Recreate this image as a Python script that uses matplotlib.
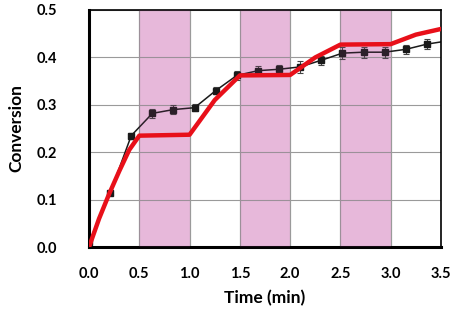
import matplotlib.pyplot as plt

# measured conversion (black squares with error bars)
t_exp = [0.0, 0.21, 0.42, 0.63, 0.84, 1.05, 1.26, 1.47, 1.68, 1.89, 2.10, 2.31, 2.52, 2.73, 2.94, 3.15, 3.36, 3.60]
conv_exp = [0.01, 0.114, 0.235, 0.282, 0.29, 0.294, 0.33, 0.362, 0.372, 0.375, 0.38, 0.394, 0.409, 0.411, 0.411, 0.417, 0.428, 0.436]
conv_err = [0.0, 0.0, 0.006, 0.01, 0.01, 0.008, 0.008, 0.01, 0.01, 0.01, 0.012, 0.01, 0.012, 0.012, 0.012, 0.01, 0.01, 0.0]

# model prediction (red line)
t_model = [0.0, 0.1, 0.2, 0.3, 0.4, 0.5, 1.0, 1.25, 1.5, 2.0, 2.25, 2.5, 3.0, 3.25, 3.5]
conv_model = [0.0, 0.06, 0.112, 0.16, 0.205, 0.235, 0.237, 0.31, 0.362, 0.363, 0.4, 0.427, 0.428, 0.448, 0.46]

# light on/off periods
spans = [(0.5, 1.0), (1.5, 2.0), (2.5, 3.0)]

xticks = [0.0, 0.5, 1.0, 1.5, 2.0, 2.5, 3.0, 3.5]
yticks = [0.0, 0.1, 0.2, 0.3, 0.4, 0.5]

plt.rcParams['font.family'] = ['Lato', 'DejaVu Sans']
plt.rcParams['font.weight'] = 'bold'

fig = plt.figure(figsize=(4.53, 3.12), dpi=100)
ax = fig.add_axes([0.1965, 0.208, 0.777, 0.76])

for a, b in spans:
    ax.axvspan(a, b, facecolor='#efc8e4', edgecolor='#999999', linewidth=0.8, zorder=0.5)

ax.errorbar(t_exp, conv_exp, yerr=conv_err, color='#1a1a1a', ecolor='#444444',
            marker='s', markersize=4, linewidth=1.1, elinewidth=0.8, capsize=2.5,
            capthick=0.8, zorder=2)

# faint tint over the points inside the shaded periods
for a, b in spans:
    ax.axvspan(a, b, facecolor='#b04a98', alpha=0.12, linewidth=0, zorder=3)

ax.plot(t_model, conv_model, color='#e8101a', linewidth=3.2, zorder=4)

ax.set_xlim(0, 3.5)
ax.set_ylim(0, 0.5)
ax.set_xticks(xticks)
ax.set_yticks(yticks)
ax.set_xticklabels([f'{v:.1f}' for v in xticks], fontsize=10.5, fontweight='bold')
ax.set_yticklabels([f'{v:.1f}' for v in yticks], fontsize=10.5, fontweight='bold')
ax.tick_params(length=0, pad=14)
ax.tick_params(axis='y', pad=23)
ax.grid(True, color='#9a9a9a', linewidth=0.8, zorder=1)
ax.set_axisbelow(True)

for side in ['left', 'bottom']:
    ax.spines[side].set_linewidth(2.2)
for side in ['top', 'right']:
    ax.spines[side].set_linewidth(1.2)

ax.set_xlabel('Time (min)', fontsize=12.5, fontweight='bold', labelpad=7)
ax.set_ylabel('Conversion', fontsize=12.5, fontweight='bold', labelpad=9)

fig.savefig('out.png', dpi=100)
